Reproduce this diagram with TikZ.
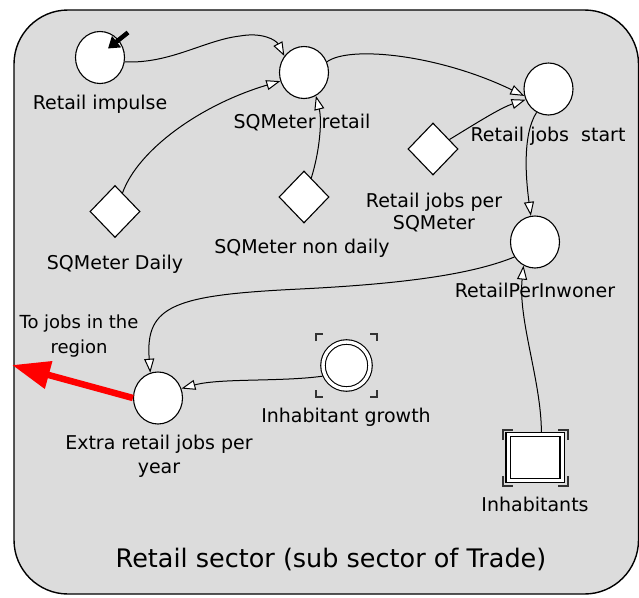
\documentclass[tikz,border=0pt]{standalone}
\usepackage{fontspec}
\setmainfont{DejaVu Sans}
\usetikzlibrary{arrows.meta,shapes.geometric,calc}
\definecolor{boxgray}{HTML}{DCDCDC}
\begin{document}
\begin{tikzpicture}[x=1pt,y=-1pt,
  circ/.style={ellipse,draw,fill=white,line width=1.1pt,minimum width=49pt,minimum height=52pt,inner sep=0pt},
  dia/.style={diamond,draw,fill=white,line width=1.1pt,minimum width=50pt,minimum height=52pt,inner sep=0pt},
  lab/.style={font=\fontsize{19}{22}\selectfont,anchor=base,inner sep=0pt,align=center},
  smalllab/.style={font=\fontsize{18}{25}\selectfont,anchor=base,inner sep=0pt,align=center},
  conn/.style={line width=1pt,-{Triangle[length=14pt,width=10pt,fill=white]}},
  bracket/.style={line width=1.4pt,draw=black!80},
  redarrow/.style={draw=red,line width=6.5pt,-{Triangle[length=38pt,width=27pt,fill=red]}}]
\useasboundingbox (0,0) rectangle (639,597);
% outer sector box
\draw[fill=boxgray,line width=1.4pt,rounded corners=54pt] (14,10) rectangle (638.5,594);
% nodes
\node[circ] (impulse) at (100,57.5) {};
\node[circ] (sqretail) at (304,72.5) {};
\node[circ] (jobsstart) at (548.5,89) {};
\node[dia] (jobsper) at (433,149) {};
\node[dia] (daily) at (115,211.5) {};
\node[dia] (nondaily) at (304,197) {};
\node[circ] (perinw) at (535,242) {};
\node[circ] (extra) at (158,398) {};
\node[circle,draw,double,double distance=3.4pt,line width=1.1pt,fill=white,minimum size=47pt,inner sep=0pt,outer sep=2.8pt] (inhg) at (346.5,365.5) {};
\node[draw,double,double distance=3pt,line width=1.2pt,fill=white,minimum width=54pt,minimum height=46pt,inner sep=0pt,outer sep=2.7pt] (inhab) at (535,457.5) {};
% brackets of inhabitant growth
\draw[bracket] (316,341) -- (316,334) -- (323,334);
\draw[bracket] (370,334) -- (377,334) -- (377,341);
\draw[bracket] (316,390) -- (316,397) -- (323,397);
\draw[bracket] (370,397) -- (377,397) -- (377,390);
% brackets of inhabitants
\draw[bracket] (503,440) -- (503,430) -- (513,430);
\draw[bracket] (558,430) -- (568,430) -- (568,440);
\draw[bracket] (503,476) -- (503,486) -- (513,486);
\draw[bracket] (558,486) -- (568,486) -- (568,476);
% impulse marker
\draw[line width=4.5pt,-{Triangle[length=11pt,width=14pt]}] ($(impulse)+(28,-25)$) -- ($(impulse)+(8,-9)$);
% labels
\node[lab] (limpulse) at (100,109) {Retail impulse};
\node[lab] (lsqretail) at (302,128) {SQMeter retail};
\node[lab] (ljobsstart) at (548,141) {Retail jobs~~start};
\node[lab] (ljobsper) at (434,229) {Retail jobs per\\SQMeter};
\node[lab] (ldaily) at (115,269) {SQMeter Daily};
\node[lab] (lnondaily) at (302,253) {SQMeter non daily};
\node[lab] (lperinw) at (535,297) {RetailPerInwoner};
\node[lab] (linhg) at (346,422) {Inhabitant growth};
\node[lab,font=\fontsize{19}{24}\selectfont] (lextra) at (159,473) {Extra retail jobs per\\year};
\node[lab] (linhab) at (535,511) {Inhabitants};
\node[smalllab] (ltojobs) at (79,353) {To jobs in the\\region};
\node[font=\fontsize{25.5}{30}\selectfont,anchor=base,inner sep=0pt] (ltitle) at (331,567) {Retail sector (sub sector of Trade)};
% connectors
\draw[conn] (impulse.-10) .. controls (170,64) and (205,40) .. (240,36) .. controls (262,32) and (276,40) .. (sqretail.140);
\draw[conn] (daily.68) .. controls (138,150) and (200,105) .. (sqretail.200);
\draw[conn] (nondaily.69) .. controls (320,150) and (322,120) .. (sqretail.-63);
\draw[conn] (sqretail.25) .. controls (350,45) and (440,55) .. (jobsstart.196);
\draw[conn] (jobsper.30) .. controls (475,124) and (500,108) .. (jobsstart.205);
\draw[conn] (jobsstart.243) .. controls (522,135) and (526,180) .. (perinw.99);
\draw[conn] (perinw.216) .. controls (470,275) and (400,284) .. (300,289) .. controls (175,295) and (145,305) .. (extra.107);
\draw[conn] (inhg.204) .. controls (280,382) and (220,378) .. (extra.22);
\draw[conn] (inhab.76) .. controls (541,380) and (518,320) .. (perinw.244);
% outgoing red arrow
\coordinate (regionout) at (12,365);
\draw[redarrow] (extra.west) -- (regionout);
\end{tikzpicture}
\end{document}
